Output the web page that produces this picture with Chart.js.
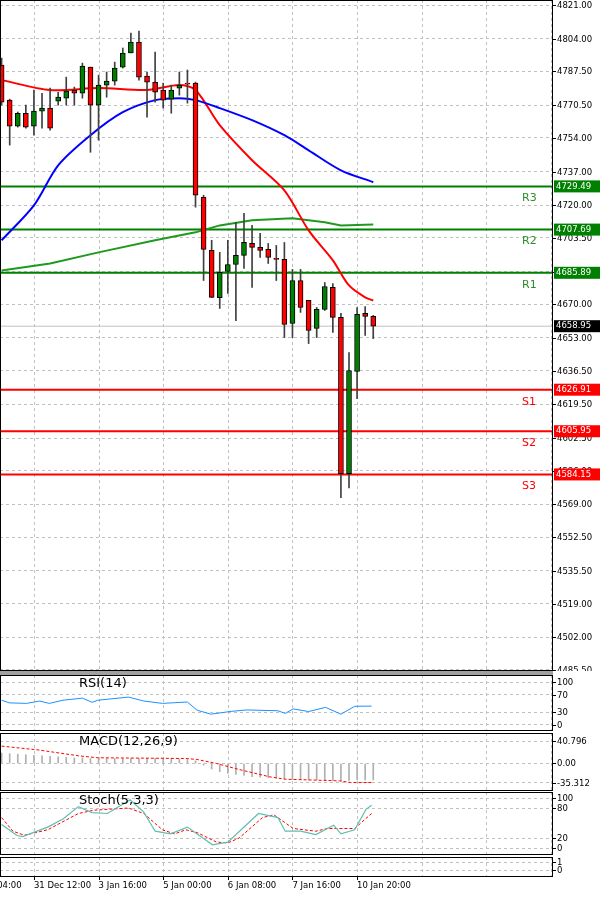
<!DOCTYPE html>
<html><head><meta charset="utf-8">
<script src="https://cdn.jsdelivr.net/npm/chart.js@4"></script>
<style>
html,body{margin:0;padding:0;background:#fff;width:600px;height:901px;overflow:hidden}
canvas{position:absolute;left:0}
#sep{position:absolute;left:0;top:671px;width:553px;height:4px;background:#a0a0a0}
</style></head><body>
<canvas id="cMain" style="top:0"></canvas>
<div id="sep"></div>
<canvas id="cRsi" style="top:675px"></canvas>
<canvas id="cMacd" style="top:733px"></canvas>
<canvas id="cSto" style="top:792px"></canvas>
<canvas id="cLast" style="top:857px"></canvas>
<script>
// ---------- DATA ----------
const openP =[4790.7,4773.0,4759.9,4766.4,4759.9,4767.5,4769.0,4772.5,4774.0,4778.1,4776.5,4789.7,4770.5,4780.6,4782.6,4789.7,4796.8,4802.3,4785.1,4782.1,4778.1,4773.5,4779.1,4781.6,4781.6,4724.0,4697.2,4673.4,4686.6,4690.1,4694.7,4700.7,4698.7,4697.7,4693.2,4692.7,4660.3,4682.0,4672.0,4657.8,4667.4,4678.5,4663.4,4584.5,4636.1,4665.4,4663.9];
const highP =[4794.2,4773.5,4767.0,4770.5,4778.1,4776.5,4779.1,4777.0,4784.6,4779.6,4791.7,4789.7,4785.6,4787.2,4792.2,4799.3,4806.9,4807.9,4787.2,4797.3,4781.6,4780.6,4787.2,4788.2,4782.1,4725.0,4702.3,4696.2,4702.3,4711.4,4715.9,4709.8,4705.8,4700.7,4699.7,4701.2,4687.6,4687.6,4672.0,4668.4,4681.0,4680.5,4665.4,4645.7,4668.4,4668.9,4664.4];
const lowP  =[4770.5,4750.3,4759.4,4758.9,4755.3,4758.9,4757.9,4770.5,4770.5,4770.5,4774.0,4746.7,4752.8,4774.5,4780.6,4789.2,4796.8,4783.1,4764.4,4772.0,4769.0,4766.4,4775.5,4771.5,4719.0,4682.0,4673.4,4667.9,4675.5,4661.8,4688.1,4678.5,4693.7,4690.6,4682.0,4653.2,4653.2,4665.9,4650.2,4653.2,4666.9,4655.8,4572.4,4577.4,4622.4,4654.3,4652.7];
const closeP=[4772.0,4759.9,4766.4,4759.4,4767.5,4769.0,4758.9,4774.5,4777.6,4776.5,4790.2,4770.5,4780.6,4782.6,4789.2,4796.8,4802.3,4784.6,4782.1,4777.0,4773.0,4778.1,4780.6,4781.1,4725.0,4697.7,4673.5,4686.1,4690.1,4694.7,4701.3,4698.7,4697.2,4693.7,4692.7,4659.8,4682.0,4668.4,4656.8,4667.4,4679.0,4663.4,4584.5,4636.6,4664.9,4663.9,4658.95];
const maRedX=[0,6,12,18,22,24,27,31,35,38,41,43,45,46];
const maRed =[4783.1,4778.1,4779.1,4778.1,4780.6,4778.1,4760.4,4742.7,4727.5,4707.3,4692.2,4679.5,4673.5,4671.9];
const maBlueX=[0,4,7,11,15,19,22,24,27,31,35,38,42,46];
const maBlue =[4702.3,4719.9,4740.1,4755.3,4766.9,4773.0,4774.0,4773.0,4769.0,4762.9,4755.3,4747.7,4737.6,4731.6];
const maGreenX=[0,6,12,19,24,27,31,36,40,42,46];
const maGreen =[4687.1,4690.6,4696.2,4702.3,4706.3,4709.8,4712.4,4713.4,4711.4,4709.8,4710.3];
const levelNames=["R3","R2","R1","S1","S2","S3"];
const levelValues=[4729.49,4707.69,4685.89,4626.91,4605.95,4584.15];
const lastPrice=4658.95;
const priceTicks=[4821,4804,4787.5,4770.5,4754,4737,4720,4703.5,4686.5,4670,4653,4636.5,4619.5,4602.5,4586,4569,4552.5,4535.5,4519,4502,4485.5];
const rsiX=[0,0.95,3.1,4.7,5.9,7.6,10,11.2,11.9,15.7,17.6,19.9,23,24.2,25.9,28.5,30.4,34.2,35.1,36.1,38,40.1,42,43.7,45.8];
const rsiV=[57.7,51.5,50.3,55.8,50.3,57.7,62.6,52.8,57.7,65,55.8,50.3,53.5,34.3,25,31.8,35,33,27,37.4,31.2,41,25,43.5,44];
const macdHist=[19,18,17,16,15,14,13,12,11,10,10,9,9,9,9,9,9,9,9,9,9,9,8,7,5,-3,-10,-15,-18,-20,-22,-24,-25,-26,-27,-28,-29,-29,-30,-30,-30,-31,-32,-31,-30,-30,-30];
const macdSigX=[0,4.7,9.5,11.9,22.8,24.2,26.6,29.4,33.2,35.1,41.8,43.2,45.8];
const macdSig=[31.7,24.4,14,10.4,9.1,7.3,0,-11,-24.4,-28.7,-31.7,-34.8,-34.8];
const stoKX=[0,1.9,2.6,5.7,7.6,9.5,11.2,13.1,15.9,17.6,19,20.9,23,26.1,28,31.8,34.2,35.1,37,38.9,41.1,42,43.7,45.1,45.8];
const stoK=[47,25,22.7,41.8,58,82.7,70.7,69,96.4,71.8,33.6,28.2,41.8,6.4,11.8,69,60.9,33.6,33.6,27,45.6,28.2,36.4,77.3,85.5];
const stoDX=[0,1.4,2.8,5.7,9.5,11.4,15.7,17.6,19.9,21.4,22.8,24.2,26.6,28,29.4,32.3,33.7,36.1,38.9,40.3,43.7,45.8];
const stoD=[60.9,33.6,25.5,36.4,69,75.6,80,69,36.4,28.2,36.4,30.9,11.8,10.2,20,60.9,66.4,39,33.6,39,39,69];
const timeTickIdx=[-0.55,4,12,20,28,36,44];
const timeTickLbl=["04:00","31 Dec 12:00","3 Jan 16:00","5 Jan 00:00","6 Jan 08:00","7 Jan 16:00","10 Jan 20:00"];
const gridIdx=[4,12,20,28,36,44,52,60,68];

// ---------- SETUP ----------
const XMIN=-0.2, XMAX=68.25, AXW=47;
const FONT='"DejaVu Sans", sans-serif';
const GREEN='#008000', RED='#ff0000', GRID='#c0c0c0';
function xy(xs,ys){return ys.map((v,i)=>({x:xs[i],y:v}));}
function xScale(){
  return {type:'linear',min:XMIN,max:XMAX,display:false,offset:false,
    grid:{display:false,offset:false},ticks:{display:false}};
}
function yScale(min,max,ticks){
  return {type:'linear',position:'right',min:min,max:max,
    afterBuildTicks:s=>{s.ticks=ticks.map(v=>({value:v}));},
    afterFit:s=>{s.width=AXW;},
    ticks:{display:false},
    grid:{color:GRID,lineWidth:1,drawTicks:false},
    border:{display:false,dash:[3,3]}};
}
function yLabelPlugin(fmt){return {id:'ylabels',afterDraw(ch){
  const c=ch.ctx,y=ch.scales.y,a=ch.chartArea;
  c.save();c.font='8.5px '+FONT;c.fillStyle='#000';c.textBaseline='middle';c.strokeStyle='#000';c.lineWidth=1;
  y.ticks.forEach(t=>{const py=Math.round(y.getPixelForValue(t.value))+0.5;
    c.beginPath();c.moveTo(a.right,py);c.lineTo(a.right+3,py);c.stroke();
    c.fillText(fmt(t.value),a.right+4,py);});
  c.restore();}};}
const gridPlugin={id:'vgrid',beforeDatasetsDraw(ch){
  const c=ch.ctx,a=ch.chartArea,x=ch.scales.x;
  c.save();c.strokeStyle=GRID;c.setLineDash([3,3]);c.lineWidth=1;
  gridIdx.forEach(g=>{const px=Math.round(x.getPixelForValue(g))+0.5;
    if(px>a.left&&px<a.right){c.beginPath();c.moveTo(px,a.top);c.lineTo(px,a.bottom);c.stroke();}});
  c.restore();
},afterDraw(ch){
  const c=ch.ctx,a=ch.chartArea;
  c.save();c.strokeStyle='#000';c.lineWidth=1;c.setLineDash([]);
  c.strokeRect(a.left+0.5,a.top+0.5,a.right-a.left-1,a.bottom-a.top-1);c.restore();
}};
function baseOpts(y,pad){
  return {responsive:false,animation:false,
    layout:{padding:pad||0},
    plugins:{legend:{display:false},tooltip:{enabled:false}},
    scales:{x:xScale(),y:y}};
}
function size(id,h){const c=document.getElementById(id);c.width=600;c.height=h;c.style.width='600px';c.style.height=h+'px';return c;}
function titlePlugin(text){return {id:'title',afterDraw(ch){
  const c=ch.ctx;c.save();c.font='13px '+FONT;c.fillStyle='#000';c.textBaseline='top';
  c.fillText(text,79,2);c.restore();}};}

// ---------- MAIN ----------
const idx=openP.map((_,i)=>i);
const bodies=idx.map(i=>({x:i,y:[openP[i],closeP[i]===openP[i]?openP[i]+0.3:closeP[i]]}));
const wicks=idx.map(i=>({x:i,y:[lowP[i],highP[i]]}));
const bodyColors=idx.map(i=>closeP[i]>=openP[i]?GREEN:RED);
const levelSets=levelValues.map((v,k)=>({type:'line',data:[{x:XMIN,y:v},{x:XMAX,y:v}],
  borderColor:k<3?GREEN:RED,borderWidth:2,pointRadius:0,order:5}));
const levelPlugin={id:'levels',afterDraw(ch){
  const c=ch.ctx,y=ch.scales.y,a=ch.chartArea;
  c.save();c.textBaseline='middle';
  levelValues.forEach((v,k)=>{const py=y.getPixelForValue(v);
    c.font='11px '+FONT;
    c.fillStyle=k<3?'#2e8b2e':RED;c.fillText(levelNames[k],522,py+12);
    c.fillStyle=k<3?GREEN:RED;c.fillRect(a.right+1,py-6,47,12);
    c.fillStyle='#fff';c.font='8.5px '+FONT;c.fillText(v.toFixed(2),a.right+3,py);});
  const py=y.getPixelForValue(lastPrice);
  c.fillStyle='#000';c.fillRect(a.right+1,py-6,47,12);
  c.fillStyle='#fff';c.font='8.5px '+FONT;c.fillText(lastPrice.toFixed(2),a.right+3,py);
  c.restore();}};
size('cMain',671);
new Chart(document.getElementById('cMain'),{
  data:{datasets:[
    ...levelSets,
    {type:'line',data:[{x:XMIN,y:lastPrice},{x:XMAX,y:lastPrice}],borderColor:'#c0c0c0',borderWidth:1,pointRadius:0,order:6},
    {type:'line',data:xy(maGreenX,maGreen),borderColor:'#1e9a1e',borderWidth:2,pointRadius:0,order:4},
    {type:'line',data:xy(maBlueX,maBlue),borderColor:'#0000ff',borderWidth:2,pointRadius:0,tension:0.3,order:3},
    {type:'line',data:xy(maRedX,maRed),borderColor:RED,borderWidth:2,pointRadius:0,tension:0.3,order:3},
    {type:'bar',data:wicks,backgroundColor:'#404040',barThickness:1,grouped:false,order:2},
    {type:'bar',data:bodies,backgroundColor:bodyColors,borderColor:'#000',borderWidth:1,borderSkipped:false,barThickness:5,grouped:false,order:1}
  ]},
  options:baseOpts(yScale(4484.98,4823.53,priceTicks)),
  plugins:[gridPlugin,yLabelPlugin(v=>Number(v).toFixed(2)),levelPlugin]
});

// ---------- RSI ----------
size('cRsi',56);
new Chart(document.getElementById('cRsi'),{
  data:{datasets:[{type:'line',data:xy(rsiX,rsiV),borderColor:'#1e90ff',borderWidth:1,pointRadius:0}]},
  options:baseOpts(yScale(-14.3,116.7,[100,70,30,0])),
  plugins:[gridPlugin,yLabelPlugin(v=>String(v)),titlePlugin('RSI(14)')]
});
// ---------- MACD ----------
size('cMacd',58);
new Chart(document.getElementById('cMacd'),{
  data:{datasets:[
    {type:'line',data:xy(macdSigX,macdSig),borderColor:RED,borderWidth:1,borderDash:[3,2],pointRadius:0,order:1},
    {type:'bar',data:idx.map(i=>({x:i,y:macdHist[i]})),backgroundColor:'#b0b0b0',barThickness:1,grouped:false,order:2}
  ]},
  options:baseOpts(yScale(-50.2,55.6,[40.796,0,-35.312])),
  plugins:[gridPlugin,yLabelPlugin(v=>v===0?'0.00':Number(v).toFixed(3)),titlePlugin('MACD(12,26,9)')]
});
// ---------- STOCH ----------
size('cSto',63);
new Chart(document.getElementById('cSto'),{
  data:{datasets:[
    {type:'line',data:xy(stoKX,stoK),borderColor:'#5fbfb0',borderWidth:1.2,pointRadius:0},
    {type:'line',data:xy(stoDX,stoD),borderColor:RED,borderWidth:1,borderDash:[3,2],pointRadius:0}
  ]},
  options:baseOpts(yScale(-14,112,[100,80,20,0])),
  plugins:[gridPlugin,yLabelPlugin(v=>String(v)),titlePlugin('Stoch(5,3,3)')]
});
// ---------- LAST + TIME AXIS ----------
size('cLast',44);
const timePlugin={id:'time',afterDraw(ch){
  const c=ch.ctx,x=ch.scales.x,a=ch.chartArea;
  c.save();c.font='8.5px '+FONT;c.fillStyle='#000';c.textBaseline='middle';c.strokeStyle='#000';
  timeTickIdx.forEach((t,k)=>{const px=x.getPixelForValue(t);
    c.fillText(timeTickLbl[k],px,a.bottom+9);
    c.beginPath();c.moveTo(Math.round(px)+0.5,a.bottom);c.lineTo(Math.round(px)+0.5,a.bottom+3);c.stroke();});
  c.restore();}};
new Chart(document.getElementById('cLast'),{
  data:{datasets:[{type:'line',data:[],pointRadius:0}]},
  options:baseOpts(yScale(-0.875,1.625,[1,0]),{bottom:24}),
  plugins:[gridPlugin,yLabelPlugin(v=>String(v)),timePlugin]
});
</script>
</body></html>
